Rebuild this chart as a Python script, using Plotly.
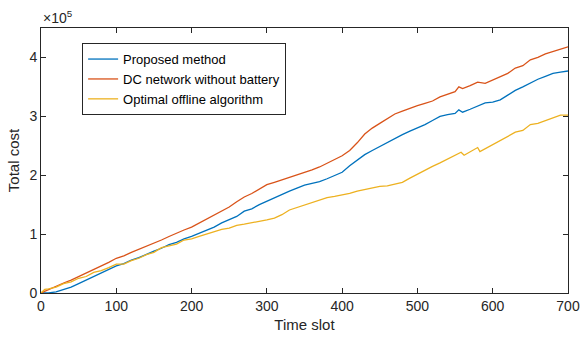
import plotly.graph_objects as go

# Time slots at which values were read
slots_proposed = [0,10,20,30,40,50,60,70,80,90,100,110,120,130,140,150,160,170,180,190,200,210,220,230,240,250,260,270,280,290,300,310,320,330,340,350,360,370,380,390,400,410,420,430,440,450,460,470,480,490,500,510,520,530,540,550,555,560,570,580,590,600,610,620,630,640,650,660,670,680,690,700]
proposed = [0,0.0,0.02,0.06,0.10,0.16,0.22,0.29,0.34,0.40,0.46,0.50,0.56,0.60,0.66,0.71,0.76,0.82,0.86,0.92,0.96,1.01,1.06,1.12,1.19,1.24,1.30,1.39,1.43,1.50,1.56,1.62,1.68,1.73,1.78,1.83,1.86,1.89,1.94,1.99,2.05,2.16,2.26,2.35,2.42,2.49,2.55,2.62,2.69,2.75,2.80,2.86,2.93,3.00,3.03,3.05,3.11,3.07,3.12,3.18,3.23,3.24,3.28,3.36,3.44,3.50,3.57,3.63,3.68,3.73,3.75,3.77]

slots_dc = [0,10,20,30,40,50,60,70,80,90,100,110,120,130,140,150,160,170,180,190,200,210,220,230,240,250,260,270,280,290,300,310,320,330,340,350,360,370,380,390,400,410,420,430,440,450,460,470,480,490,500,510,520,530,540,550,555,560,570,580,590,600,610,620,630,640,650,660,670,680,690,700]
dc_no_battery = [0,0.06,0.11,0.17,0.22,0.28,0.33,0.40,0.46,0.52,0.59,0.63,0.69,0.74,0.79,0.84,0.90,0.96,1.02,1.07,1.12,1.19,1.26,1.32,1.39,1.46,1.55,1.63,1.69,1.77,1.84,1.88,1.92,1.96,2.00,2.05,2.09,2.14,2.20,2.26,2.33,2.42,2.55,2.70,2.80,2.88,2.96,3.04,3.09,3.14,3.18,3.22,3.26,3.33,3.38,3.42,3.50,3.47,3.52,3.58,3.56,3.62,3.68,3.73,3.82,3.86,3.96,4.00,4.06,4.10,4.13,4.18]

slots_opt = [0,5,10,20,30,40,50,60,70,80,90,100,110,120,130,140,150,160,170,180,190,200,210,220,230,240,250,260,270,280,290,300,310,320,330,340,350,360,370,380,390,400,410,420,430,440,450,460,470,480,490,500,510,520,530,540,550,558,562,570,580,583,590,600,610,620,630,640,650,660,670,680,690,700]
optimal_offline = [0,0.06,0.07,0.10,0.16,0.19,0.25,0.28,0.35,0.38,0.43,0.49,0.49,0.55,0.59,0.65,0.69,0.77,0.80,0.83,0.90,0.92,0.96,1.00,1.03,1.08,1.10,1.15,1.17,1.19,1.22,1.24,1.27,1.33,1.41,1.45,1.49,1.53,1.58,1.62,1.64,1.66,1.69,1.73,1.76,1.79,1.81,1.82,1.85,1.88,1.95,2.02,2.08,2.15,2.21,2.27,2.33,2.39,2.34,2.40,2.47,2.40,2.45,2.52,2.60,2.66,2.73,2.76,2.86,2.88,2.93,2.98,3.02,3.02]

x_ticks = [0,100,200,300,400,500,600,700]
y_ticks = [0,1,2,3,4]
scale = 1e5

series_names = ["Proposed method", "DC network without battery", "Optimal offline algorithm"]
colors = ["#0072BD", "#D95319", "#EDB120"]

fig = go.Figure()
for name, xs, ys, c in zip(series_names,
                           [slots_proposed, slots_dc, slots_opt],
                           [proposed, dc_no_battery, optimal_offline],
                           colors):
    fig.add_trace(go.Scatter(x=xs, y=[v * scale for v in ys], mode="lines", name=name,
                             line=dict(color=c, width=1.3)))

axcol = "#262626"
fig.update_layout(
    width=580, height=338,
    margin=dict(l=41, r=12, t=28, b=45),
    paper_bgcolor="white", plot_bgcolor="white",
    font=dict(family="Liberation Sans, Arial, sans-serif", color=axcol, size=14),
    showlegend=True,
    legend=dict(x=0.078, y=0.943, xanchor="left", yanchor="top",
                bgcolor="white", bordercolor=axcol, borderwidth=1,
                font=dict(size=13, color="black"), itemwidth=30,
                tracegroupgap=0),
    xaxis=dict(range=[0, 700], tickvals=x_ticks, ticktext=[str(t) for t in x_ticks],
               showgrid=False, zeroline=False, showline=True, mirror="ticks",
               linecolor=axcol, linewidth=1, ticks="inside", ticklen=5, tickcolor=axcol,
               automargin=False,
               title=dict(text="Time slot", font=dict(size=15), standoff=6)),
    yaxis=dict(range=[0, 4.5 * scale], tickvals=[t * scale for t in y_ticks],
               ticktext=[str(t) for t in y_ticks],
               showgrid=False, zeroline=False, showline=True, mirror="ticks",
               linecolor=axcol, linewidth=1, ticks="inside", ticklen=5, tickcolor=axcol,
               automargin=False,
               title=dict(text="Total cost", font=dict(size=15), standoff=6)),
    annotations=[dict(text="×10<sup>5</sup>", xref="paper", yref="paper", x=0, y=1.0,
                      xanchor="left", yanchor="bottom", showarrow=False,
                      font=dict(size=14, color=axcol), yshift=0)],
)

fig.write_html("out.html")
